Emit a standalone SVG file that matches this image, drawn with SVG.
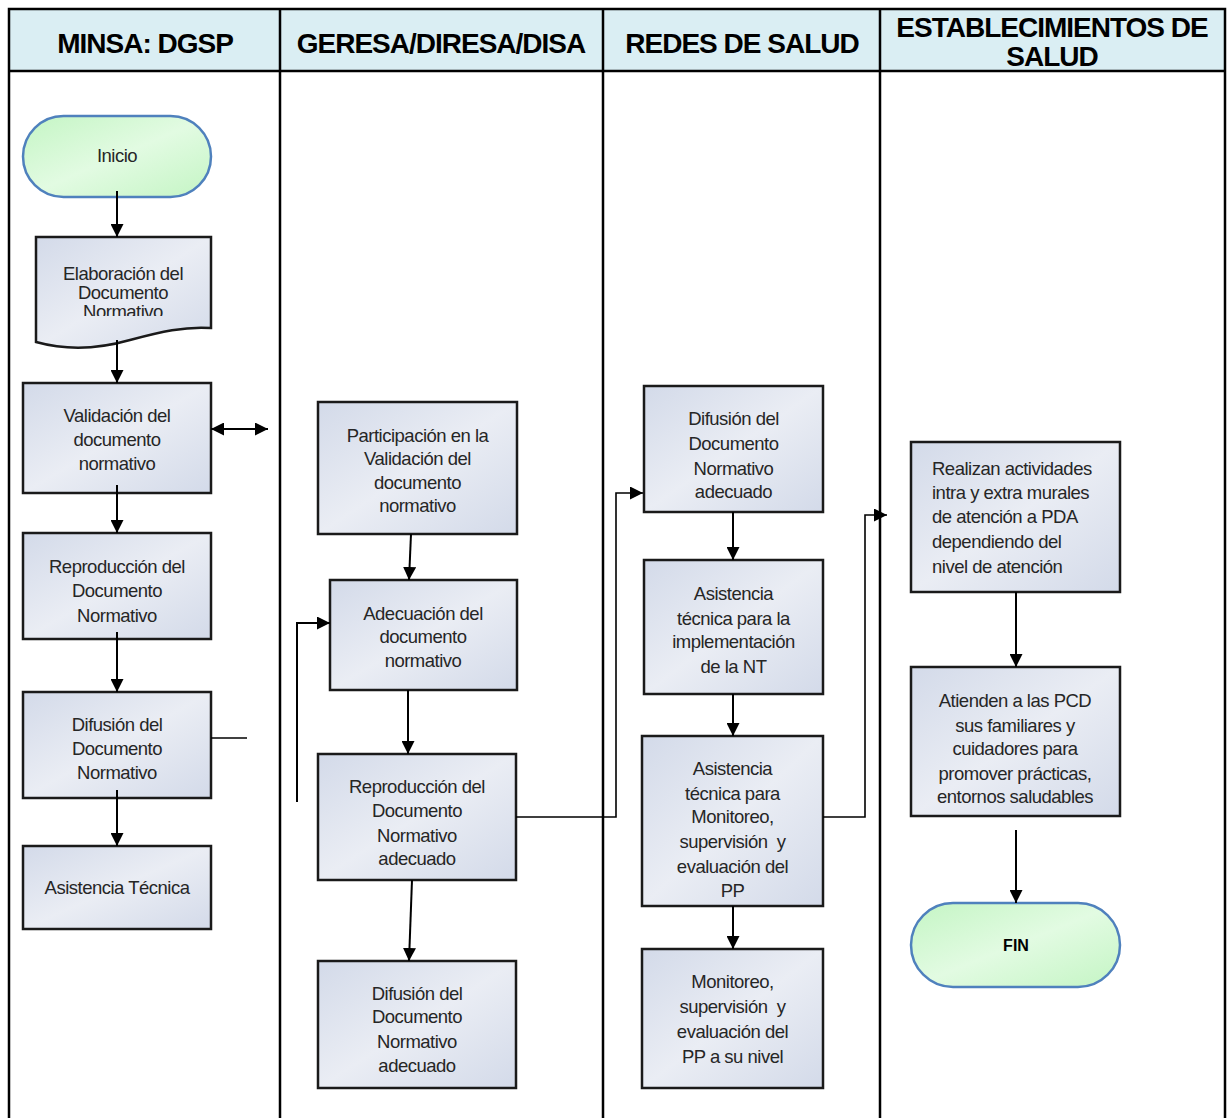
<svg xmlns="http://www.w3.org/2000/svg" width="1227" height="1118" viewBox="0 0 1227 1118">
<style>
.tbl{fill:none;stroke:#000;stroke-width:2.5}
.hdr{font-family:"Liberation Sans",Arial,sans-serif;font-weight:bold;font-size:28px;letter-spacing:-1px;fill:#000;text-anchor:middle}
.box{fill:url(#gbox);stroke:#1a1a1a;stroke-width:2.5}
.term{fill:url(#gterm);stroke:#4f81bd;stroke-width:2.5}
.t{font-family:"Liberation Sans",Arial,sans-serif;font-size:18.5px;letter-spacing:-0.5px;fill:#262626;text-anchor:middle;white-space:pre}
.tl{text-anchor:start}
.tb{font-weight:bold;font-size:16px;letter-spacing:0;fill:#000}
.c{fill:none;stroke:#000;stroke-width:2}
.ct{fill:none;stroke:#000;stroke-width:1.6}
</style>
<defs>
<linearGradient id="gbox" x1="0" y1="0" x2="1" y2="1">
<stop offset="0" stop-color="#d3dae9"/>
<stop offset="0.5" stop-color="#eaedf4"/>
<stop offset="1" stop-color="#d3dae9"/>
</linearGradient>
<linearGradient id="gterm" x1="0" y1="0" x2="1" y2="1">
<stop offset="0" stop-color="#c4f5c4"/>
<stop offset="0.5" stop-color="#e2fbe2"/>
<stop offset="1" stop-color="#c4f5c4"/>
</linearGradient>
<marker id="ah" viewBox="0 0 13 13" refX="13" refY="6.5" markerWidth="13" markerHeight="13" markerUnits="userSpaceOnUse" orient="auto-start-reverse">
<path d="M0,0 L13,6.5 L0,13 z" fill="#000"/>
</marker>
<clipPath id="clipDoc"><rect x="36" y="237" width="175" height="79"/></clipPath>
</defs>

<g id="table">
<rect x="9" y="9" width="1216" height="62" fill="#daeef3"/>
<path class="tbl" d="M9,1118 V9 H1225 V1118 M9,71 H1225 M280,9 V1118 M603,9 V1118 M880,9 V1118"/>
<text class="hdr" x="145" y="53">MINSA: DGSP</text>
<text class="hdr" x="441" y="53">GERESA/DIRESA/DISA</text>
<text class="hdr" x="742" y="53">REDES DE SALUD</text>
<text class="hdr" x="1052" y="37">ESTABLECIMIENTOS DE</text>
<text class="hdr" x="1052" y="66">SALUD</text>
</g>

<g id="n-inicio">
<rect class="term" x="23" y="116" width="188" height="81" rx="40.5"/>
<text class="t" x="117" y="162">Inicio</text>
</g>

<g id="n-elaboracion">
<path class="box" d="M36,237 H211 V328 C185,326 160,332 130,340 C95,350 65,350 36,342 Z"/>
<g clip-path="url(#clipDoc)">
<text class="t" x="123" y="280">Elaboración del</text>
<text class="t" x="123" y="299">Documento</text>
<text class="t" x="123" y="318">Normativo</text>
</g>
</g>

<g id="n-validacion">
<rect class="box" x="23" y="383" width="188" height="110"/>
<text class="t" x="117" y="422">Validación del</text>
<text class="t" x="117" y="446">documento</text>
<text class="t" x="117" y="470">normativo</text>
</g>

<g id="n-reproduccion">
<rect class="box" x="23" y="533" width="188" height="106"/>
<text class="t" x="117" y="573">Reproducción del</text>
<text class="t" x="117" y="597">Documento</text>
<text class="t" x="117" y="622">Normativo</text>
</g>

<g id="n-difusion">
<rect class="box" x="23" y="692" width="188" height="106"/>
<text class="t" x="117" y="731">Difusión del</text>
<text class="t" x="117" y="755">Documento</text>
<text class="t" x="117" y="779">Normativo</text>
</g>

<g id="n-asistencia">
<rect class="box" x="23" y="846" width="188" height="83"/>
<text class="t" x="117" y="894">Asistencia Técnica</text>
</g>

<g id="n-participacion">
<rect class="box" x="318" y="402" width="199" height="132"/>
<text class="t" x="417.5" y="442">Participación en la</text>
<text class="t" x="417.5" y="465">Validación del</text>
<text class="t" x="417.5" y="489">documento</text>
<text class="t" x="417.5" y="512">normativo</text>
</g>

<g id="n-adecuacion">
<rect class="box" x="330" y="580" width="187" height="110"/>
<text class="t" x="423" y="620">Adecuación del</text>
<text class="t" x="423" y="643">documento</text>
<text class="t" x="423" y="667">normativo</text>
</g>

<g id="n-reproduccion-adec">
<rect class="box" x="318" y="754" width="198" height="126"/>
<text class="t" x="417" y="793">Reproducción del</text>
<text class="t" x="417" y="817">Documento</text>
<text class="t" x="417" y="842">Normativo</text>
<text class="t" x="417" y="865">adecuado</text>
</g>

<g id="n-difusion-adec-geresa">
<rect class="box" x="318" y="961" width="198" height="127"/>
<text class="t" x="417" y="1000">Difusión del</text>
<text class="t" x="417" y="1023">Documento</text>
<text class="t" x="417" y="1048">Normativo</text>
<text class="t" x="417" y="1072">adecuado</text>
</g>

<g id="n-difusion-adec-redes">
<rect class="box" x="644" y="386" width="179" height="126"/>
<text class="t" x="733.5" y="425">Difusión del</text>
<text class="t" x="733.5" y="450">Documento</text>
<text class="t" x="733.5" y="475">Normativo</text>
<text class="t" x="733.5" y="498">adecuado</text>
</g>

<g id="n-asistencia-nt">
<rect class="box" x="644" y="560" width="179" height="134"/>
<text class="t" x="733.5" y="600">Asistencia</text>
<text class="t" x="733.5" y="625">técnica para la</text>
<text class="t" x="733.5" y="648">implementación</text>
<text class="t" x="733.5" y="673">de la NT</text>
</g>

<g id="n-asistencia-monitoreo">
<rect class="box" x="642" y="736" width="181" height="170"/>
<text class="t" x="732.5" y="775">Asistencia</text>
<text class="t" x="732.5" y="800">técnica para</text>
<text class="t" x="732.5" y="823">Monitoreo,</text>
<text class="t" x="732.5" y="848">supervisión  y</text>
<text class="t" x="732.5" y="873">evaluación del</text>
<text class="t" x="732.5" y="897">PP</text>
</g>

<g id="n-monitoreo">
<rect class="box" x="642" y="949" width="181" height="139"/>
<text class="t" x="732.5" y="988">Monitoreo,</text>
<text class="t" x="732.5" y="1013">supervisión  y</text>
<text class="t" x="732.5" y="1038">evaluación del</text>
<text class="t" x="732.5" y="1063">PP a su nivel</text>
</g>

<g id="n-realizan">
<rect class="box" x="911" y="442" width="209" height="150"/>
<text class="t tl" x="932" y="475">Realizan actividades</text>
<text class="t tl" x="932" y="499">intra y extra murales</text>
<text class="t tl" x="932" y="523">de atención a PDA</text>
<text class="t tl" x="932" y="548">dependiendo del</text>
<text class="t tl" x="932" y="573">nivel de atención</text>
</g>

<g id="n-atienden">
<rect class="box" x="911" y="667" width="209" height="149"/>
<text class="t" x="1015" y="707">Atienden a las PCD</text>
<text class="t" x="1015" y="732">sus familiares y</text>
<text class="t" x="1015" y="755">cuidadores para</text>
<text class="t" x="1015" y="780">promover prácticas,</text>
<text class="t" x="1015" y="803">entornos saludables</text>
</g>

<g id="n-fin">
<rect class="term" x="911" y="903" width="209" height="84" rx="42"/>
<text class="t tb" x="1016" y="951">FIN</text>
</g>

<g id="connectors">
<path class="c" d="M117,191 V237" marker-end="url(#ah)"/>
<path class="c" d="M117,340 V383" marker-end="url(#ah)"/>
<path class="c" d="M117,485 V533" marker-end="url(#ah)"/>
<path class="c" d="M117,632 V692" marker-end="url(#ah)"/>
<path class="c" d="M117,790 V846" marker-end="url(#ah)"/>
<path class="c" d="M211,429 H268" marker-start="url(#ah)" marker-end="url(#ah)"/>
<path class="ct" d="M211,738 H247"/>
<path class="c" d="M411,534 L409,580" marker-end="url(#ah)"/>
<path class="c" d="M297,802 V623 H330" marker-end="url(#ah)"/>
<path class="c" d="M408,690 V754" marker-end="url(#ah)"/>
<path class="c" d="M412,880 L409,961" marker-end="url(#ah)"/>
<path class="ct" d="M516,817 H616 V493 H643" marker-end="url(#ah)"/>
<path class="c" d="M733,512 V560" marker-end="url(#ah)"/>
<path class="c" d="M733,694 V736" marker-end="url(#ah)"/>
<path class="c" d="M733,906 V949" marker-end="url(#ah)"/>
<path class="ct" d="M823,817 H865 V515 H887" marker-end="url(#ah)"/>
<path class="c" d="M1016,592 V667" marker-end="url(#ah)"/>
<path class="c" d="M1016,830 V903" marker-end="url(#ah)"/>
</g>
</svg>
